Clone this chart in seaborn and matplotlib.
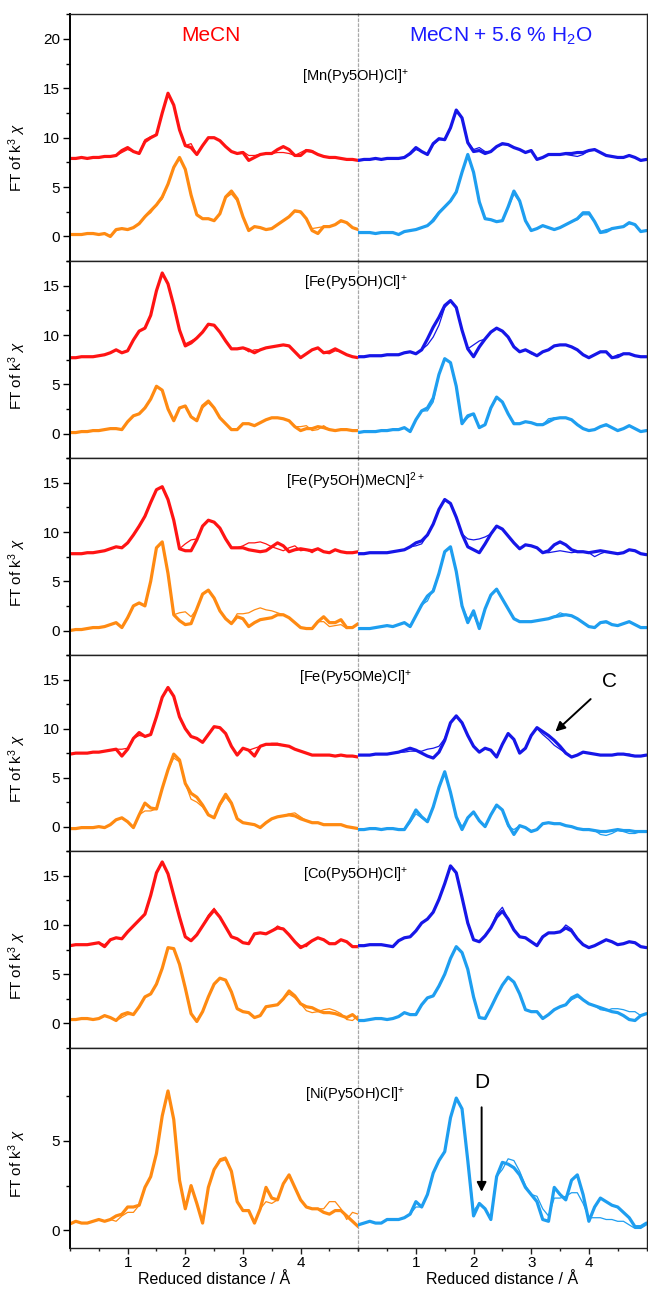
import numpy as np
import matplotlib.pyplot as plt
import seaborn as sns
from matplotlib.ticker import MultipleLocator

# reduced distance grid (Å), same for both halves
r_grid = np.linspace(0, 5, 51)

# ---- [Mn(Py5OH)Cl]+ ----
mn_l_red = [7.9,7.9,8.0,7.9,8.0, 8.0,8.1,8.1,8.2,8.7, 9.0,8.6,8.4,9.6,10.0, 10.3,12.5,14.5,13.3,10.8, 9.2,9.0,8.3,9.2,10.0,
            10.0,9.7,9.1,8.6,8.4, 8.5,7.7,8.0,8.3,8.4, 8.4,8.8,9.1,8.8,8.2, 8.2,8.7,8.6,8.3,8.1, 8.0,8.0,7.9,7.8,7.8,7.7]
mn_l_red2 = [7.9,7.9,8.0,7.9,8.0, 8.0,8.1,8.1,8.2,8.5, 8.8,8.6,8.4,9.8,10.1, 10.3,12.5,14.4,13.3,10.8, 9.2,9.4,8.3,9.2,10.0,
             10.0,9.7,9.1,8.6,8.4, 8.6,8.2,8.2,8.3,8.4, 8.4,8.5,8.5,8.4,8.2, 8.5,8.8,8.7,8.3,8.1, 8.0,8.0,7.9,7.8,7.8,7.7]
mn_l_org = [0.2,0.2,0.2,0.3,0.3, 0.2,0.3,0.0,0.7,0.8, 0.7,0.9,1.3,2.0,2.6, 3.2,4.0,5.3,7.0,8.0, 6.8,4.2,2.2,1.8,1.8,
            1.6,2.3,4.0,4.6,3.8, 2.0,0.6,1.0,0.9,0.7, 0.8,1.2,1.6,2.0,2.6, 2.5,1.8,0.6,0.3,1.0, 1.0,1.2,1.6,1.4,0.9,0.7]
mn_l_org2 = [0.2,0.2,0.2,0.3,0.3, 0.2,0.3,0.1,0.6,0.8, 0.7,0.9,1.3,2.0,2.4, 3.2,3.8,5.3,7.0,7.9, 6.8,4.2,2.2,1.8,1.8,
             1.6,2.3,3.9,4.3,3.6, 2.0,0.6,1.0,0.9,0.7, 0.8,1.2,1.6,2.0,2.5, 2.4,1.8,0.8,0.9,1.0, 1.0,1.2,1.5,1.4,0.9,0.7]
mn_r_blu = [7.7,7.8,7.8,7.9,7.8, 7.9,7.9,7.9,8.0,8.4, 9.0,8.6,8.3,9.4,9.9, 9.8,11.0,12.8,12.0,9.5, 8.6,8.7,8.4,8.6,9.1,
            9.4,9.3,9.0,8.8,8.5, 8.7,7.8,8.0,8.3,8.3, 8.3,8.4,8.4,8.5,8.5, 8.7,8.8,8.5,8.2,8.1, 8.0,8.0,8.2,8.0,7.7,7.8]
mn_r_blu2 = [7.7,7.8,7.8,7.9,7.8, 7.9,7.9,7.9,8.0,8.3, 8.8,8.6,8.3,9.3,9.8, 9.8,11.0,12.6,12.0,9.6, 8.8,9.0,8.6,8.6,9.1,
             9.3,9.3,9.0,8.8,8.5, 8.7,7.8,8.0,8.3,8.3, 8.3,8.3,8.2,8.1,8.3, 8.7,8.8,8.5,8.2,8.1, 8.0,8.0,8.2,8.0,7.7,7.8]
mn_r_lb = [0.4,0.4,0.4,0.3,0.4, 0.4,0.4,0.2,0.5,0.6, 0.7,0.9,1.1,1.6,2.4, 3.0,3.6,4.5,6.5,8.3, 6.5,3.5,1.8,1.7,1.5,
           1.6,3.0,4.6,3.6,1.6, 0.6,0.8,1.1,0.9,0.7, 0.9,1.2,1.5,1.8,2.4, 2.4,1.5,0.4,0.5,0.8, 0.9,1.0,1.4,1.2,0.5,0.6]
mn_r_lb2 = [0.4,0.4,0.4,0.3,0.4, 0.4,0.4,0.2,0.5,0.6, 0.7,0.9,1.1,1.8,2.5, 3.0,3.6,4.6,6.5,8.2, 6.5,3.5,1.8,1.7,1.5,
            1.6,2.9,4.3,3.5,1.6, 0.6,0.8,1.1,0.9,0.7, 0.9,1.2,1.5,1.7,2.2, 2.2,1.5,0.5,0.7,0.8, 0.9,1.0,1.3,1.2,0.5,0.6]

# ---- [Fe(Py5OH)Cl]+ ----
fe_l_red = [7.7,7.7,7.8,7.8,7.8, 7.9,8.0,8.2,8.5,8.2, 8.4,9.5,10.4,10.7,12.0, 14.5,16.3,15.2,13.0,10.5, 8.9,9.2,9.7,10.3,11.1,
            11.0,10.3,9.4,8.6,8.6, 8.7,8.5,8.2,8.5,8.7, 8.8,8.9,9.0,8.9,8.3, 7.7,8.1,8.5,8.7,8.2, 8.3,8.6,8.3,8.0,7.8,7.7]
fe_l_red2 = [7.7,7.7,7.8,7.8,7.8, 7.9,8.0,8.2,8.5,8.2, 8.4,9.5,10.4,10.7,12.0, 14.5,16.2,15.2,13.0,10.5, 9.1,9.4,9.7,10.3,11.1,
             11.0,10.3,9.4,8.6,8.6, 8.7,8.3,8.5,8.5,8.7, 8.8,8.9,9.0,8.9,8.3, 7.7,8.1,8.5,8.7,8.2, 8.1,8.4,8.3,8.0,7.8,7.7]
fe_l_org = [0.1,0.1,0.2,0.2,0.3, 0.3,0.4,0.5,0.5,0.4, 1.2,1.8,2.0,2.6,3.5, 4.8,4.4,2.5,1.3,2.6, 2.8,1.7,1.3,2.8,3.3,
            2.6,1.6,1.0,0.4,0.4, 1.0,1.0,0.8,1.1,1.4, 1.6,1.6,1.5,1.3,0.7, 0.3,0.5,0.5,0.7,0.6, 0.4,0.3,0.4,0.4,0.3,0.3]
fe_l_org2 = [0.1,0.1,0.2,0.2,0.3, 0.3,0.4,0.5,0.5,0.4, 1.2,1.8,2.0,2.6,3.5, 4.8,4.4,2.5,1.3,2.6, 2.8,1.7,1.3,2.6,3.1,
             2.6,1.6,1.0,0.4,0.4, 1.0,1.0,0.8,1.1,1.4, 1.6,1.6,1.5,1.3,0.7, 0.7,0.8,0.3,0.4,0.8, 0.4,0.3,0.4,0.4,0.3,0.3]
fe_r_blu = [7.8,7.8,7.9,7.9,7.9, 8.0,8.0,8.0,8.2,8.3, 8.1,8.5,9.6,10.8,11.8, 13.0,13.5,12.8,10.5,8.6, 7.8,8.8,9.6,10.3,10.7,
            10.4,9.8,8.8,8.3,8.5, 8.2,7.9,8.3,8.5,8.9, 9.0,9.0,8.8,8.5,8.0, 7.7,8.0,8.3,8.3,7.7, 7.8,8.1,8.1,7.9,7.8,7.8]
fe_r_blu2 = [7.8,7.8,7.9,7.9,7.9, 8.0,8.0,8.0,8.2,8.3, 8.1,8.5,9.0,9.8,11.0, 12.8,13.4,12.8,10.5,8.6, 9.0,9.4,9.6,10.3,10.7,
             10.4,9.8,8.8,8.3,8.5, 8.1,7.9,8.3,8.5,8.9, 9.0,9.0,8.8,8.5,8.0, 7.7,8.0,8.3,8.3,7.7, 8.0,8.1,8.1,7.9,7.8,7.8]
fe_r_lb = [0.1,0.2,0.2,0.2,0.3, 0.3,0.4,0.4,0.6,0.2, 1.4,2.3,2.6,3.6,6.0, 7.6,7.2,4.8,1.0,1.8, 2.0,0.6,0.9,2.6,3.7,
           3.2,2.0,1.0,1.0,1.2, 1.1,0.9,0.9,1.2,1.5, 1.6,1.6,1.4,0.9,0.5, 0.3,0.4,0.7,0.9,0.6, 0.3,0.5,0.8,0.5,0.2,0.3]
fe_r_lb2 = [0.1,0.2,0.2,0.2,0.3, 0.3,0.4,0.4,0.6,0.2, 1.4,2.3,2.3,3.2,6.0, 7.6,7.2,4.8,1.0,1.6, 2.0,0.6,0.9,2.6,3.7,
            3.2,2.0,1.0,1.0,1.2, 1.1,0.9,0.9,1.5,1.6, 1.6,1.6,1.4,0.9,0.5, 0.3,0.4,0.7,0.8,0.6, 0.3,0.5,0.8,0.5,0.2,0.3]

# ---- [Fe(Py5OH)MeCN]2+ ----
fm_l_red = [7.8,7.8,7.8,7.9,7.9, 8.0,8.1,8.3,8.5,8.4, 8.9,9.7,10.6,11.6,13.0, 14.3,14.6,13.3,11.2,8.3, 8.1,8.1,9.2,10.6,11.2,
            11.0,10.4,9.3,8.4,8.4, 8.4,8.2,8.1,8.0,8.1, 8.5,8.9,8.6,8.0,8.2, 8.3,8.2,8.1,8.3,8.0, 7.9,8.2,8.0,7.9,7.9,8.0]
fm_l_red2 = [7.8,7.8,7.8,7.9,7.9, 8.0,8.1,8.3,8.5,8.4, 8.9,9.7,10.6,11.6,13.0, 14.3,14.6,13.3,11.2,8.3, 8.8,9.2,9.3,10.6,11.2,
             11.0,10.4,9.3,8.4,8.4, 8.6,8.9,8.9,9.0,8.8, 8.5,8.3,8.1,8.4,8.6, 8.1,8.2,7.9,8.3,8.0, 7.9,8.2,8.0,7.9,7.9,8.0]
fm_l_org = [0.0,0.1,0.1,0.2,0.3, 0.3,0.4,0.6,0.8,0.3, 1.3,2.5,2.8,2.5,5.0, 8.4,9.0,5.8,1.6,1.0, 0.6,0.7,2.2,3.7,4.1,
            3.3,2.0,1.2,0.7,1.4, 1.2,0.4,0.8,1.1,1.2, 1.3,1.6,1.6,1.3,0.8, 0.3,0.2,0.2,0.9,1.4, 0.8,0.8,1.1,0.3,0.3,0.7]
fm_l_org2 = [0.0,0.1,0.1,0.2,0.3, 0.3,0.4,0.6,0.8,0.3, 1.3,2.5,2.8,2.5,5.0, 8.4,9.0,5.8,1.6,1.8, 1.9,1.4,2.2,3.7,4.1,
             3.3,2.0,1.2,0.7,1.7, 1.7,1.8,2.1,2.3,2.1, 2.0,1.8,1.6,1.3,0.8, 0.3,0.2,0.2,0.9,0.9, 0.4,0.5,0.6,0.2,0.3,0.7]
fm_r_blu = [7.8,7.8,7.9,7.9,7.9, 7.9,8.0,8.1,8.2,8.5, 8.9,9.1,9.7,10.8,12.3, 13.3,12.9,11.5,9.8,8.5, 8.2,7.9,8.8,9.8,10.6,
            10.3,9.6,8.9,8.3,8.7, 8.6,8.4,7.9,8.1,8.7, 9.0,8.7,8.2,8.0,8.0, 7.9,8.0,8.1,8.0,7.9, 7.8,7.9,8.2,8.1,7.8,7.7]
fm_r_blu2 = [7.8,7.8,7.9,7.9,7.9, 7.9,8.0,8.1,8.2,8.5, 8.6,8.8,9.7,10.8,12.3, 13.3,12.9,11.5,9.8,9.3, 9.2,9.3,9.5,9.8,10.6,
             10.3,9.6,8.9,8.3,8.7, 8.6,8.4,7.9,7.9,8.0, 8.1,8.0,7.9,8.0,8.0, 7.9,7.5,7.8,8.0,7.9, 7.8,7.9,8.2,8.1,7.8,7.7]
fm_r_lb = [0.2,0.2,0.2,0.3,0.4, 0.5,0.4,0.6,0.8,0.4, 1.5,2.6,3.5,4.0,5.8, 8.0,8.5,6.0,2.5,0.8, 2.0,0.2,2.2,3.6,4.2,
           3.2,2.2,1.2,0.9,0.9, 0.9,1.0,1.1,1.2,1.4, 1.5,1.6,1.5,1.2,0.8, 0.4,0.3,0.8,0.9,0.6, 0.5,0.7,0.9,0.6,0.3,0.3]
fm_r_lb2 = [0.2,0.2,0.2,0.3,0.4, 0.5,0.4,0.6,0.8,0.4, 1.5,2.6,3.0,4.2,5.8, 8.0,8.5,6.0,2.5,1.2, 1.6,0.2,2.2,3.6,4.2,
            3.2,2.2,1.2,0.9,0.9, 0.9,1.0,1.1,1.2,1.4, 1.8,1.6,1.5,1.2,0.8, 0.4,0.3,0.8,0.8,0.6, 0.5,0.7,0.9,0.6,0.3,0.3]

# ---- [Fe(Py5OMe)Cl]+ ----
fo_l_red = [7.4,7.5,7.5,7.5,7.6, 7.6,7.7,7.8,7.9,7.2, 7.9,9.0,9.6,9.2,9.4, 11.2,13.2,14.2,13.3,11.2, 10.0,9.2,9.0,8.6,9.4,
            10.2,10.1,9.5,8.2,7.3, 8.0,7.8,7.2,8.2,8.4, 8.4,8.4,8.3,8.2,7.9, 7.7,7.5,7.3,7.3,7.3, 7.3,7.2,7.3,7.2,7.2,7.1]
fo_l_red2 = [7.4,7.5,7.5,7.5,7.6, 7.6,7.7,7.8,7.9,7.9, 8.0,9.0,9.3,9.2,9.4, 11.2,13.2,14.1,13.3,11.2, 10.0,9.2,9.0,8.6,9.4,
             10.2,10.1,9.5,8.2,7.3, 8.0,7.8,8.0,8.2,8.4, 8.5,8.5,8.3,8.2,7.9, 7.7,7.5,7.3,7.3,7.3, 7.3,7.2,7.3,7.2,7.2,7.1]
fo_l_org = [-0.2,-0.2,-0.1,-0.1,-0.1, 0.0,-0.1,0.2,0.7,0.9, 0.5,-0.1,1.2,2.4,1.9, 1.8,3.9,5.8,7.4,6.8, 4.4,3.4,3.0,2.2,1.2,
            0.9,2.3,3.3,2.4,0.8, 0.4,0.3,0.2,-0.1,0.4, 0.8,1.0,1.1,1.2,1.1, 0.8,0.6,0.4,0.4,0.2, 0.2,0.2,0.2,0.0,-0.1,-0.2]
fo_l_org2 = [-0.2,-0.2,-0.1,-0.1,-0.1, 0.0,-0.1,0.2,0.7,0.9, 0.5,-0.1,1.2,1.6,1.6, 1.8,3.9,5.8,7.0,6.6, 4.4,2.8,2.5,2.0,1.2,
             0.9,2.1,3.0,2.3,0.8, 0.4,0.3,0.2,-0.1,0.4, 0.8,1.0,1.1,1.3,1.4, 1.0,0.6,0.4,0.4,0.2, 0.2,0.2,0.2,0.0,-0.1,-0.2]
fo_r_blu = [7.3,7.3,7.3,7.4,7.4, 7.4,7.5,7.6,7.8,8.0, 7.8,7.5,7.2,7.0,7.6, 8.8,10.6,11.3,10.6,9.3, 8.2,7.6,8.0,7.8,7.1,
            8.4,9.5,8.9,7.5,8.0, 9.3,10.1,9.7,9.3,8.8, 8.2,7.5,7.1,7.3,7.6, 7.5,7.4,7.3,7.3,7.3, 7.4,7.4,7.3,7.2,7.2,7.3]
fo_r_blu2 = [7.3,7.3,7.3,7.4,7.4, 7.4,7.5,7.6,7.6,7.7, 7.7,7.7,7.9,8.0,8.2, 9.0,10.6,11.2,10.6,9.3, 8.2,7.6,8.0,7.8,7.1,
             8.4,9.5,8.9,7.5,8.0, 9.3,10.0,9.4,8.9,8.3, 7.9,7.5,7.1,7.3,7.6, 7.5,7.4,7.3,7.3,7.3, 7.4,7.4,7.4,7.2,7.2,7.3]
fo_r_lb = [-0.3,-0.3,-0.2,-0.2,-0.3, -0.2,-0.2,-0.3,-0.3,0.6, 1.7,1.0,0.5,2.0,4.0, 5.6,3.5,1.0,-0.3,0.9, 1.5,0.6,0.0,1.2,2.2,
           1.7,0.2,-0.8,0.1,-0.1, -0.5,-0.3,0.3,0.4,0.3, 0.3,0.1,0.0,-0.2,-0.3, -0.3,-0.4,-0.5,-0.5,-0.4, -0.3,-0.4,-0.4,-0.5,-0.5,-0.5]
fo_r_lb2 = [-0.3,-0.3,-0.2,-0.2,-0.3, -0.2,-0.2,-0.3,-0.3,0.4, 1.3,0.9,0.5,2.0,4.0, 5.5,3.5,1.0,0.0,0.9, 1.5,0.6,0.0,1.2,2.2,
            1.7,0.0,-0.3,0.1,-0.1, -0.4,-0.3,0.3,0.4,0.3, 0.3,0.1,0.0,-0.2,-0.3, -0.3,-0.4,-0.8,-0.9,-0.7, -0.4,-0.5,-0.7,-0.7,-0.5,-0.5]

# ---- [Co(Py5OH)Cl]+ ----
co_l_red = [7.9,8.0,8.0,8.0,8.1, 8.2,7.8,8.5,8.7,8.6, 9.3,9.9,10.5,11.1,13.0, 15.3,16.4,15.2,13.0,10.8, 8.8,8.4,9.0,9.9,10.8,
            11.5,10.8,9.8,8.8,8.6, 8.2,8.1,9.1,9.2,9.1, 9.4,9.7,9.6,9.0,8.3, 7.7,8.0,8.4,8.7,8.5, 8.1,8.1,8.5,8.3,7.8,7.8]
co_l_red2 = [7.9,8.0,8.0,8.0,8.1, 8.2,8.0,8.5,8.7,8.6, 9.3,9.9,10.5,11.1,13.0, 15.3,16.3,15.2,13.0,10.8, 8.8,8.4,9.0,9.9,11.0,
             11.7,10.8,9.8,8.8,8.6, 8.2,8.1,9.1,9.2,9.1, 9.4,9.9,9.6,9.0,8.3, 7.9,7.8,8.4,8.7,8.5, 8.1,8.1,8.5,8.3,7.8,7.8]
co_l_org = [0.4,0.4,0.5,0.5,0.4, 0.5,0.8,0.6,0.3,0.9, 1.1,0.9,1.7,2.7,3.0, 4.0,5.6,7.7,7.6,6.0, 3.6,1.0,0.2,1.2,2.7,
            4.0,4.6,4.4,3.2,1.5, 1.2,1.1,0.6,0.8,1.7, 1.8,1.9,2.5,3.3,2.8, 2.0,1.7,1.6,1.3,1.1, 1.1,1.0,0.8,0.6,0.9,0.4]
co_l_org2 = [0.4,0.4,0.5,0.5,0.4, 0.5,0.8,0.6,0.3,0.6, 0.9,0.9,1.7,2.7,3.0, 4.0,5.6,7.7,7.6,6.0, 3.6,1.0,0.2,1.2,2.7,
             4.0,4.6,4.4,3.2,1.5, 1.2,1.1,0.6,0.8,1.7, 1.8,1.9,2.5,3.0,2.6, 2.0,1.3,1.1,1.2,1.4, 1.5,1.3,1.0,0.4,0.3,0.8]
co_r_blu = [7.9,7.9,8.0,8.0,8.0, 7.9,7.8,8.4,8.7,8.8, 9.4,10.2,10.6,11.3,12.6, 14.2,16.0,15.3,12.8,10.2, 8.5,8.3,8.9,9.7,10.8,
            11.4,10.6,9.5,8.8,8.7, 8.3,7.9,8.8,9.2,9.2, 9.3,9.7,9.4,8.6,8.0, 7.7,7.9,8.2,8.5,8.3, 8.0,8.1,8.3,8.2,7.8,7.7]
co_r_blu2 = [7.9,7.9,8.0,8.0,8.0, 7.9,7.8,8.4,8.7,8.8, 9.4,10.2,10.6,11.3,12.6, 14.2,16.0,15.3,12.8,10.2, 8.5,8.3,8.9,9.7,11.1,
             11.8,10.6,9.5,8.8,8.7, 8.3,7.9,8.8,9.2,9.2, 9.3,10.0,9.6,8.6,8.0, 7.7,7.9,8.2,8.5,8.3, 8.0,8.1,8.3,8.2,7.8,7.7]
co_r_lb = [0.3,0.3,0.4,0.5,0.5, 0.4,0.5,0.7,1.1,0.9, 0.9,1.9,2.6,2.8,3.8, 5.0,6.6,7.8,7.2,5.5, 2.7,0.6,0.5,1.6,2.8,
           3.9,4.7,4.2,3.0,1.4, 1.2,1.2,0.5,0.9,1.4, 1.7,1.9,2.6,2.9,2.4, 2.0,1.8,1.6,1.4,1.2, 1.1,0.8,0.4,0.3,0.8,1.0]
co_r_lb2 = [0.3,0.3,0.4,0.5,0.5, 0.4,0.5,0.7,1.1,0.9, 0.9,1.9,2.6,2.8,3.8, 5.0,6.6,7.8,7.2,5.5, 2.7,0.6,0.5,1.6,2.8,
            3.9,4.7,4.2,3.0,1.4, 1.2,1.2,0.5,0.9,1.4, 1.7,1.9,2.4,2.7,2.4, 2.0,1.8,1.4,1.3,1.5, 1.5,1.4,1.2,1.2,0.8,1.0]

# ---- [Ni(Py5OH)Cl]+ ----
ni_l_org = [0.35,0.5,0.4,0.4,0.5, 0.6,0.5,0.6,0.8,0.9, 1.3,1.3,1.4,2.4,3.0, 4.3,6.4,7.8,6.2,2.8, 1.2,2.5,1.5,0.4,2.4,
            3.4,3.9,4.0,3.3,1.6, 1.1,1.1,0.4,1.2,2.4, 1.8,1.7,2.6,3.1,2.4, 1.7,1.3,1.2,1.2,1.0, 0.9,1.1,1.1,0.8,0.5,0.2]
ni_l_org2 = [0.35,0.5,0.4,0.4,0.5, 0.6,0.5,0.6,0.5,0.8, 1.0,1.0,1.4,2.4,3.0, 4.3,6.4,7.8,6.2,2.8, 1.2,2.5,1.5,0.4,2.4,
             3.4,4.0,4.1,3.3,1.6, 1.1,1.1,0.4,1.2,1.6, 1.5,1.7,2.6,3.1,2.4, 1.7,1.3,1.2,1.2,1.2, 1.6,1.6,1.2,0.6,1.0,0.9]
ni_r_lb = [0.3,0.4,0.5,0.4,0.4, 0.6,0.6,0.6,0.7,0.9, 1.6,1.3,2.0,3.2,3.9, 4.4,6.3,7.4,6.8,3.9, 0.8,1.5,1.2,0.6,3.0,
           3.8,3.7,3.5,3.1,2.4, 2.0,1.6,0.6,0.5,2.4, 2.0,1.7,2.8,3.1,2.0, 0.5,1.3,1.8,1.6,1.4, 1.3,1.0,0.7,0.2,0.2,0.4]
ni_r_lb2 = [0.3,0.4,0.5,0.4,0.4, 0.6,0.6,0.6,0.7,0.9, 1.3,1.3,2.0,3.2,3.9, 4.4,6.3,7.4,6.8,3.9, 1.1,1.5,1.2,0.6,3.0,
            3.4,4.0,3.9,3.3,2.5, 2.0,1.9,1.2,0.8,1.8, 1.8,1.9,2.1,2.1,1.5, 0.7,0.7,0.7,0.6,0.6, 0.5,0.5,0.3,0.1,0.1,0.3]

titles = ["[Mn(Py5OH)Cl]$^\\mathregular{+}$", "[Fe(Py5OH)Cl]$^\\mathregular{+}$",
          "[Fe(Py5OH)MeCN]$^\\mathregular{2+}$", "[Fe(Py5OMe)Cl]$^\\mathregular{+}$",
          "[Co(Py5OH)Cl]$^\\mathregular{+}$", "[Ni(Py5OH)Cl]$^\\mathregular{+}$"]
left_hi = [(mn_l_red, mn_l_red2), (fe_l_red, fe_l_red2), (fm_l_red, fm_l_red2),
           (fo_l_red, fo_l_red2), (co_l_red, co_l_red2), None]
left_lo = [(mn_l_org, mn_l_org2), (fe_l_org, fe_l_org2), (fm_l_org, fm_l_org2),
           (fo_l_org, fo_l_org2), (co_l_org, co_l_org2), (ni_l_org, ni_l_org2)]
right_hi = [(mn_r_blu, mn_r_blu2), (fe_r_blu, fe_r_blu2), (fm_r_blu, fm_r_blu2),
            (fo_r_blu, fo_r_blu2), (co_r_blu, co_r_blu2), None]
right_lo = [(mn_r_lb, mn_r_lb2), (fe_r_lb, fe_r_lb2), (fm_r_lb, fm_r_lb2),
            (fo_r_lb, fo_r_lb2), (co_r_lb, co_r_lb2), (ni_r_lb, ni_r_lb2)]

RED, ORANGE, BLUE, LBLUE = "#ff1414", "#ff8a12", "#1616e8", "#1e9ef0"

sns.set_theme(style="ticks")
plt.rcParams['font.family'] = ['Liberation Sans', 'DejaVu Sans']
plt.rcParams['mathtext.fontset'] = 'custom'
plt.rcParams['mathtext.rm'] = 'Liberation Sans'
plt.rcParams['mathtext.it'] = 'Liberation Sans:italic'
for k in ('text.color', 'axes.labelcolor', 'xtick.color', 'ytick.color'):
    plt.rcParams[k] = 'black'

fig = plt.figure(figsize=(6.48, 12.92), dpi=100)
gs = fig.add_gridspec(6, 2, height_ratios=[247, 197, 197, 196, 197, 200],
                      left=0.108, right=0.9977, top=0.989, bottom=0.034,
                      hspace=0, wspace=0)

ylims = [(-2.5, 22.5)] + [(-2.5, 17.5)] * 4 + [(-1, 10.2)]
title_y = [0.745, 0.888, 0.883, 0.883, 0.878, 0.765]

def draw(ax, pair, color):
    if pair is None:
        return
    sns.lineplot(x=r_grid, y=pair[0], ax=ax, color=color, linewidth=2.3, sort=False, estimator=None)
    sns.lineplot(x=r_grid, y=pair[1], ax=ax, color=color, linewidth=0.9, sort=False, estimator=None)

for i in range(6):
    axL = fig.add_subplot(gs[i, 0])
    axR = fig.add_subplot(gs[i, 1], sharey=axL)
    axR.patch.set_visible(False)

    draw(axL, left_hi[i], RED)
    draw(axL, left_lo[i], ORANGE)
    draw(axR, right_hi[i], BLUE)
    draw(axR, right_lo[i], LBLUE)

    for ax in (axL, axR):
        ax.set_xlim(0, 5)
        ax.set_xlabel("")
        ax.set_ylabel("")
        for s in ("top", "bottom"):
            ax.spines[s].set_linewidth(1.0)
            ax.spines[s].set_color("#222222")
        if i < 5:
            ax.tick_params(axis="x", which="both", bottom=False, labelbottom=False)
        else:
            ax.set_xticks([1, 2, 3, 4])
            ax.xaxis.set_minor_locator(MultipleLocator(0.5))
            ax.tick_params(axis="x", which="major", length=4, width=1, pad=2,
                           labelsize=11, color="#222222")
            ax.tick_params(axis="x", which="minor", length=2.5, width=1, color="#222222")
            ax.set_xlabel("Reduced distance / Å", fontsize=11.5, labelpad=1)

    axL.set_ylim(*ylims[i])
    if i == 5:
        axL.set_yticks([0, 5])
        axL.set_yticks([2.5, 7.5], minor=True)
    else:
        axL.yaxis.set_major_locator(MultipleLocator(5))
        axL.yaxis.set_minor_locator(MultipleLocator(2.5))
    axL.tick_params(axis="y", which="major", length=5, width=1, pad=2, labelsize=11)
    axL.tick_params(axis="y", which="minor", length=3, width=1)
    axL.spines["left"].set_linewidth(1.4)
    axL.spines["left"].set_color("black")
    axL.spines["right"].set_linestyle((0, (2, 2)))
    axL.spines["right"].set_color("#a8a8a8")
    axL.spines["right"].set_linewidth(0.9)
    axL.set_ylabel("FT of k$^\\mathregular{3}$ $\\chi$", fontsize=11)
    axL.yaxis.set_label_coords(-0.145, 0.42)

    axR.spines["left"].set_visible(False)
    axR.spines["right"].set_linewidth(1.0)
    axR.spines["right"].set_color("#222222")
    axR.tick_params(axis="y", which="both", left=False, labelleft=False)

    axL.text(0.99, title_y[i], titles[i], transform=axL.transAxes,
             ha="center", va="center", fontsize=10.5, color="black")

    if i == 0:
        axL.text(0.49, 0.912, "MeCN", transform=axL.transAxes, ha="center",
                 va="center", fontsize=15, color="#ff0000")
        axR.text(0.493, 0.912, "MeCN + 5.6 % H$_\\mathregular{2}$O", transform=axR.transAxes,
                 ha="center", va="center", fontsize=15, color="#1a1aff")
    if i == 3:
        axR.annotate("C", xy=(3.42, 9.7), xytext=(4.36, 14.8), fontsize=15,
                     ha="center", va="center", color="black",
                     arrowprops=dict(arrowstyle="-|>", color="black", lw=1.4,
                                     mutation_scale=14, shrinkA=8, shrinkB=0))
    if i == 5:
        axR.annotate("D", xy=(2.14, 2.15), xytext=(2.14, 8.3), fontsize=15,
                     ha="center", va="center", color="black",
                     arrowprops=dict(arrowstyle="-|>", color="black", lw=1.4,
                                     mutation_scale=14, shrinkA=9, shrinkB=0))

fig.savefig("out.png", dpi=100)
